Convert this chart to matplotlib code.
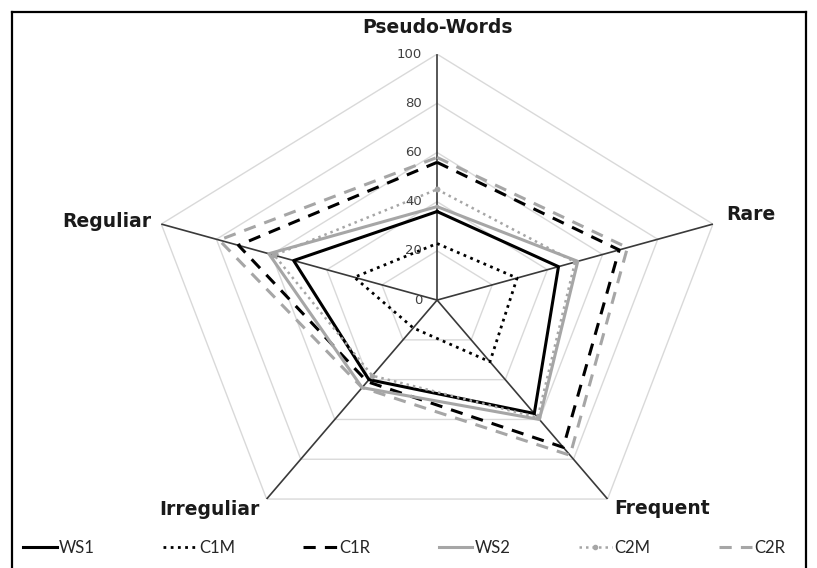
import numpy as np
import matplotlib
matplotlib.use("Agg")
import matplotlib.pyplot as plt
from matplotlib.lines import Line2D

categories = ["Pseudo-Words", "Rare", "Frequent", "Irreguliar", "Reguliar"]
series_names = ["WS1", "C1M", "C1R", "WS2", "C2M", "C2R"]
ws1 = [36, 44, 57, 40, 52]
c1m = [23, 29, 31, 14, 30]
c1r = [56, 66, 74, 41, 72]
ws2 = [38, 51, 60, 44, 61]
c2m = [45, 50, 59, 38, 59]
c2r = [58, 69, 78, 44, 79]
r_ticks = [0, 20, 40, 60, 80, 100]

BLACK = "#000000"
GRAY = "#a6a6a6"

fig = plt.figure(figsize=(8.17, 5.68), dpi=100)
ax = fig.add_axes([0.180, 0.0387, 0.710, 0.866], projection="polar")
ax.set_theta_offset(np.pi / 2)
ax.set_theta_direction(-1)
ax.set_ylim(0, 100)
ax.set_aspect("auto")
ax.grid(False)
ax.set_xticks([])
ax.set_yticks([])
ax.spines["polar"].set_visible(False)
ax.patch.set_visible(False)

n = len(categories)
theta = np.arange(n) * 2 * np.pi / n
theta_closed = np.append(theta, theta[0])

# pentagon grid
for r in r_ticks[1:]:
    ax.plot(theta_closed, [r] * (n + 1), color="#d9d9d9", lw=1.0, zorder=1)
# axis spokes
for t in theta:
    ax.plot([t, t], [0, r_ticks[-1]], color="#3a3a3a", lw=1.2, zorder=2)

# radial tick labels
for r in r_ticks:
    ax.annotate(str(r), xy=(0, r), xytext=(-15, 0), textcoords="offset pixels",
                ha="right", va="center", fontsize=9.5, color="#404040",
                annotation_clip=False, family="DejaVu Sans")

# category labels
offsets = [(0, 27, "center"), (13, 10, "left"), (7, -9, "left"),
           (-7, -10, "right"), (-10, 3, "right")]
for t, lab, (dx, dy, ha) in zip(theta, categories, offsets):
    ax.annotate(lab, xy=(t, r_ticks[-1]), xytext=(dx, dy), textcoords="offset pixels",
                ha=ha, va="center", fontsize=13.5, fontweight="bold", color="#1a1a1a",
                annotation_clip=False, family="DejaVu Sans")

def closed(v):
    return list(v) + [v[0]]

styles = [
    (ws1, dict(color=BLACK, lw=2.2, ls="-")),
    (c1m, dict(color=BLACK, lw=2.0, ls=(0, (1, 1.6)))),
    (c1r, dict(color=BLACK, lw=2.2, ls=(0, (4, 3)))),
    (ws2, dict(color=GRAY, lw=2.2, ls="-")),
    (c2m, dict(color=GRAY, lw=1.8, ls=(0, (1, 1.6)), marker="o", markersize=3)),
    (c2r, dict(color=GRAY, lw=2.2, ls=(0, (4, 3)))),
]
handles = []
for name, (vals, st) in zip(series_names, styles):
    h, = ax.plot(theta_closed, closed(vals), label=name, zorder=3, **st)
    handles.append(h)

leg = fig.legend(handles=handles, labels=series_names, ncol=6, loc="center",
                 bbox_to_anchor=(0.495, 0.035), frameon=False, handlelength=2.0,
                 handletextpad=0.15, columnspacing=4.1,
                 prop={"family": ["Lato", "DejaVu Sans"], "size": 12})
for txt in leg.get_texts():
    txt.set_color("#262626")

# chart border
bx0, bx1, by1 = 12 / 817, 806 / 817, 1 - 12 / 568
for xs, ys in [([bx0, bx0], [0, by1]), ([bx0, bx1], [by1, by1]), ([bx1, bx1], [by1, 0])]:
    fig.add_artist(Line2D(xs, ys, transform=fig.transFigure, color="#000000", lw=1.6))

fig.savefig("out.png", dpi=100)
